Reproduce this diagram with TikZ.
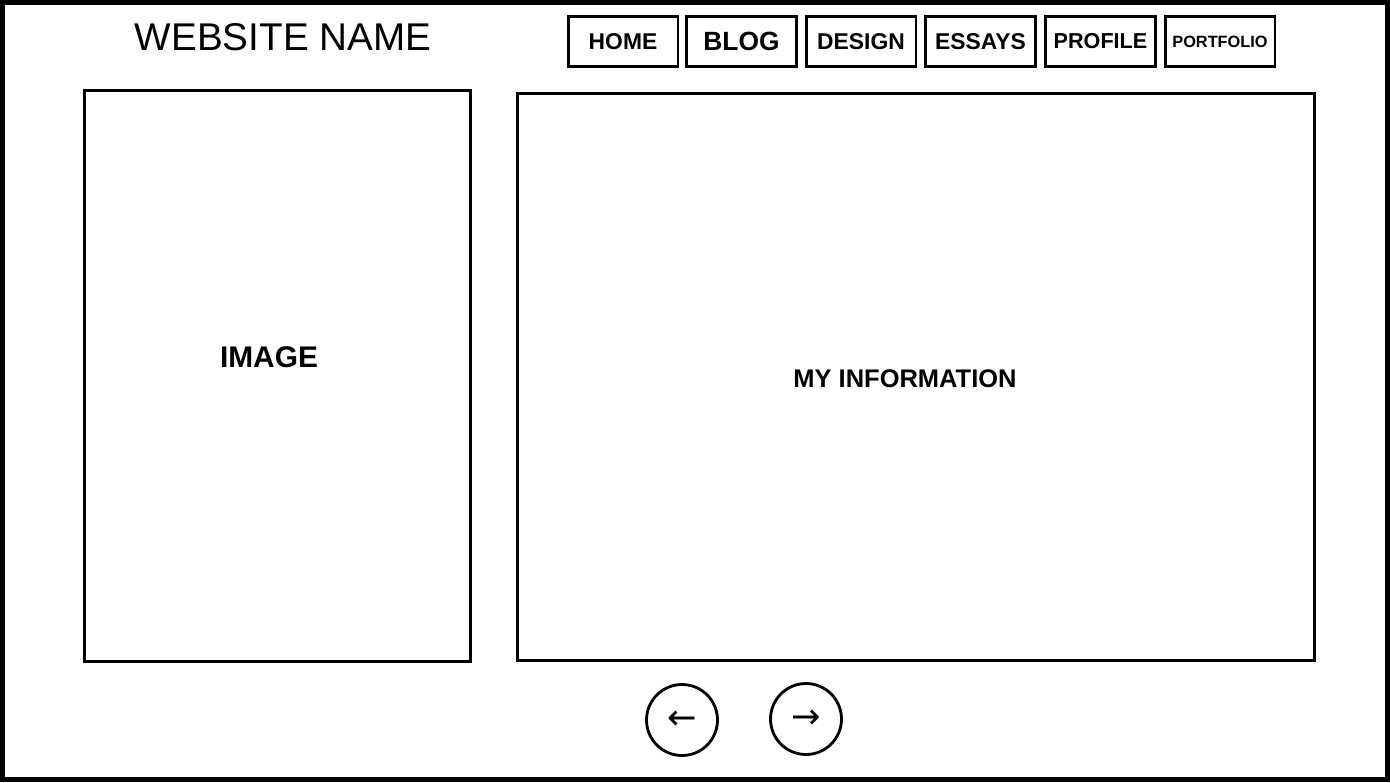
\documentclass[tikz,border=0pt]{standalone}
\usepackage{fontspec}
\setmainfont{Liberation Sans}
\newfontfamily\arrowfont{DejaVu Sans}
\begin{document}
\begin{tikzpicture}[x=0.02cm, y=-0.02cm,
        panel/.style={draw, line width=1.7pt, inner sep=0pt},
        navbtn/.style={draw, line width=1.7pt, minimum width=2.2cm, minimum height=1cm, inner sep=0pt, font=\bfseries\fontsize{13}{15}\selectfont},
        pagebtn/.style={draw, circle, line width=1.6pt, minimum size=1.42cm, inner sep=0pt, font=\arrowfont\fontsize{20}{22}\selectfont}]

        % page frame
        \fill[white] (0,0) rectangle (1390,782);
        \useasboundingbox (0,0) rectangle (1390,782);
        \draw[line width=2.8pt] (2.5,2.5) rectangle (1387.5,779.5);

        % ------------------ Header ------------------

        \node[font=\fontsize{22}{25}\selectfont] (title) at (283,37) {WEBSITE NAME};

        % Menu
        \node[navbtn] (home) at (623,41.5) {HOME};
        \node[navbtn, font=\bfseries\fontsize{15}{18}\selectfont] (blog) at (741.5,41.5) {BLOG};
        \node[navbtn] (design) at (861,41.5) {DESIGN};
        \node[navbtn] (essays) at (980.5,41.5) {ESSAYS};
        \node[navbtn, font=\bfseries\fontsize{12.3}{15}\selectfont] (profile) at (1100.5,41.5) {PROFILE};
        \node[navbtn, font=\bfseries\fontsize{9.3}{12}\selectfont] (portfolio) at (1220,41.5) {PORTFOLIO};

        % ------------------ Content ------------------

        \node[panel, minimum width=7.74cm, minimum height=11.44cm] (image) at (277.5,376) {};
        \node[font=\bfseries\fontsize{17}{20}\selectfont] (imagetxt) at (269,357) {IMAGE};

        \node[panel, minimum width=15.96cm, minimum height=11.36cm] (info) at (916,377) {};
        \node[font=\bfseries\fontsize{14.5}{17}\selectfont] (infotxt) at (905,379) {MY INFORMATION};

        % ------------------ Paging ------------------

        \node[pagebtn] (prev) at (682,720) {\raisebox{-2pt}{←}};
        \node[pagebtn] (next) at (806,719) {\raisebox{-2pt}{→}};

    \end{tikzpicture}
\end{document}
